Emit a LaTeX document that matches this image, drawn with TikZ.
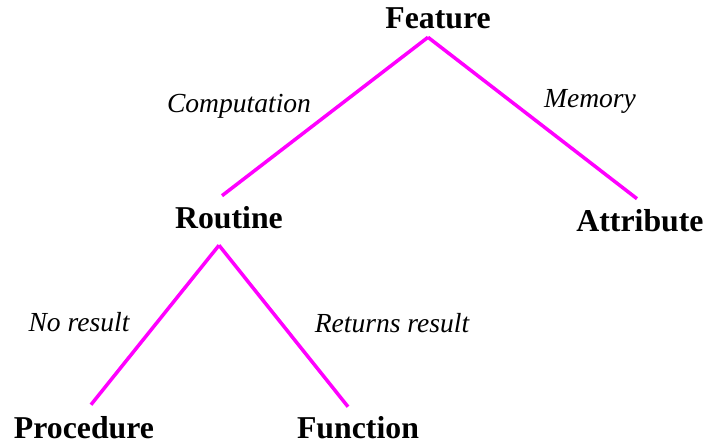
\documentclass[tikz,border=0pt]{standalone}
\usepackage{fontspec}
\setmainfont{Liberation Serif}
\usepackage{tikz}
\usetikzlibrary{calc}
\definecolor{branchpink}{RGB}{255,0,255}

\begin{document}
\begin{tikzpicture}[
    x=0.025cm, y=-0.025cm,
    term/.style={anchor=base, font=\fontsize{22.6}{27}\selectfont\bfseries, inner xsep=0pt, inner ysep=0.275cm, text height=0.55cm, text depth=0pt},
    lbl/.style={anchor=base, font=\fontsize{19.6}{24}\selectfont\itshape, inner sep=0pt},
    branch/.style={draw=branchpink, line width=2.5pt},
]
\useasboundingbox (0,0) rectangle (706,444);

\node[term] (feature) at (438, 29) {Feature};
\node[term] (routine) at (229, 229) {Routine};
\node[term] (attribute) at (640, 232) {Attribute};
\node[term] (procedure) at (84, 439) {Procedure};
\node[term] (function) at (358, 439) {Function};

\node[lbl] (computation) at (239, 113) {Computation};
\node[lbl] (memory) at (590, 108) {Memory};
\node[lbl] (noresult) at (79, 332) {No result};
\node[lbl] (returns) at (392, 333) {Returns result};

\draw[branch] ($(feature.south)+(-10,-3)$) -- ($(routine.north)+(-7,0)$);
\draw[branch] ($(feature.south)+(-10,-3)$) -- ($(attribute.north)+(-3,0)$);
\draw[branch] ($(routine.south)+(-10,5)$) -- ($(procedure.north)+(7,-1)$);
\draw[branch] ($(routine.south)+(-10,5)$) -- ($(function.north)+(-10,1)$);

\end{tikzpicture}
\end{document}
